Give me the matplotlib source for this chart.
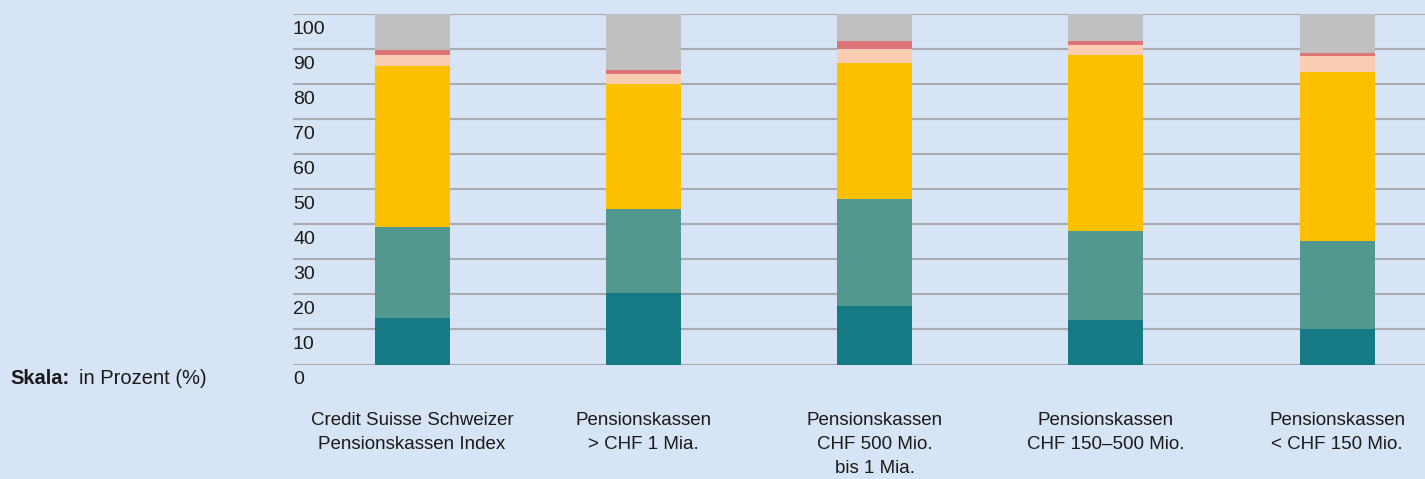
import numpy as np
import matplotlib.pyplot as plt

categories = [
    "Credit Suisse Schweizer\nPensionskassen Index",
    "Pensionskassen\n> CHF 1 Mia.",
    "Pensionskassen\nCHF 500 Mio.\nbis 1 Mia.",
    "Pensionskassen\nCHF 150–500 Mio.",
    "Pensionskassen\n< CHF 150 Mio.",
]

# stacked shares in percent, bottom to top
seg_dark = [13.4, 20.3, 16.7, 12.6, 10.0]
seg_mid = [25.7, 24.0, 30.4, 25.4, 25.1]
seg_yellow = [46.0, 35.7, 38.9, 50.3, 48.3]
seg_peach = [3.2, 2.9, 4.0, 2.8, 4.6]
seg_red = [1.4, 1.1, 2.3, 1.2, 0.9]
seg_gray = [10.3, 16.0, 7.7, 7.7, 11.1]

y_ticks = [0, 10, 20, 30, 40, 50, 60, 70, 80, 90, 100]

BG = "#d7e4f5"
colors = ["#157a84", "#52988f", "#fdc000", "#f9cdb1", "#dd7477", "#c0c0c0"]


def main():
    plt.rcParams["font.family"] = ["Liberation Sans", "DejaVu Sans"]
    fig = plt.figure(figsize=(14.25, 4.79), dpi=100, facecolor=BG)
    ax = fig.add_axes([293 / 1425, 1 - 364.5 / 479, 1 - 293 / 1425, 350.5 / 479])
    ax.set_facecolor(BG)

    x = np.arange(len(categories))
    segs = [seg_dark, seg_mid, seg_yellow, seg_peach, seg_red, seg_gray]
    bottom = np.zeros(len(categories))
    for vals, c in zip(segs, colors):
        ax.bar(x, vals, width=0.325, bottom=bottom, color=c, zorder=3)
        bottom += np.array(vals)

    ax.set_xlim(-0.515, 4.38)
    ax.set_ylim(0, 100)
    for t in y_ticks:
        ax.axhline(t, color="#a9abb1", lw=1.5, zorder=1)
        ax.annotate(str(t), xy=(0, t), xycoords=("axes fraction", "data"),
                    xytext=(0, -5), textcoords="offset points",
                    ha="left", va="top", fontsize=14, color="#1a1a1a")

    ax.set_xticks([])
    ax.set_yticks([])
    for s in ax.spines.values():
        s.set_visible(False)

    for xi, lab in zip(x, categories):
        ax.annotate(lab, xy=(xi, 0), xycoords="data", xytext=(0, -34),
                    textcoords="offset points", ha="center", va="top",
                    fontsize=13.5, color="#1a1a1a", linespacing=1.55,
                    annotation_clip=False)

    fig.text(10 / 1425, 1 - 378 / 479, "Skala:", fontsize=14.5,
             fontweight="bold", color="#1a1a1a", va="center")
    fig.text(79 / 1425, 1 - 378 / 479, "in Prozent (%)", fontsize=14.5,
             color="#1a1a1a", va="center")

    fig.savefig("out.png", dpi=100, facecolor=BG)


if __name__ == "__main__":
    main()
